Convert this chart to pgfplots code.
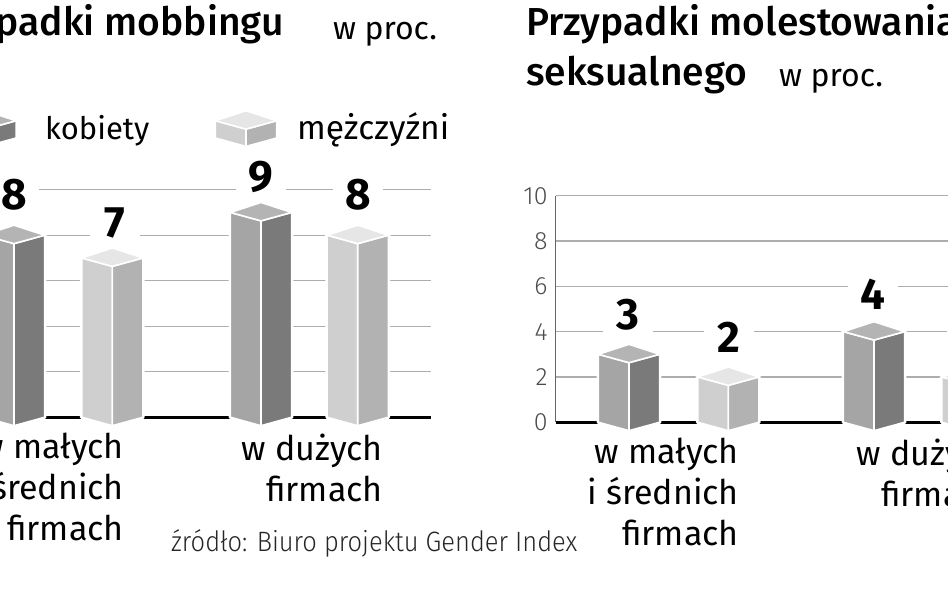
\documentclass[border=0pt]{standalone}
\usepackage{fontspec}
\setmainfont{Fira Sans}
\newfontfamily\lightf{Fira Sans Light}
\newfontfamily\medf{Fira Sans Medium}
\usepackage{pgfplots}
\pgfplotsset{compat=1.18}

\definecolor{wl}{HTML}{A5A5A5}
\definecolor{wr}{HTML}{7A7A7A}
\definecolor{wt}{HTML}{B4B4B4}
\definecolor{ml}{HTML}{CFCFCF}
\definecolor{mr}{HTML}{B2B2B2}
\definecolor{mt}{HTML}{E6E6E6}

% one bar: centre x, base value, top value, colours of left, right, top face
\newcommand\cube[6]{%
  \pgfmathsetmacro\xl{#1-30.6}%
  \pgfmathsetmacro\xr{#1+30.6}%
  \pgfmathsetmacro\bf{#2-0.37}%
  \pgfmathsetmacro\tf{#3-0.37}%
  \pgfmathsetmacro\tb{#3+0.44}%
  \edef\tmp{%
    \noexpand\addplot[draw=white,line width=3.5pt,fill=white,line join=round] coordinates {(\xl,#2) (\xl,#3) (#1,\tb) (\xr,#3) (\xr,#2) (#1,\bf)} --cycle;
    \noexpand\addplot[draw=white,line width=1.6pt,fill=#4] coordinates {(\xl,#2) (\xl,#3) (#1,\tf) (#1,\bf)} --cycle;
    \noexpand\addplot[draw=white,line width=1.6pt,fill=#5] coordinates {(#1,\bf) (#1,\tf) (\xr,#3) (\xr,#2)} --cycle;
    \noexpand\addplot[draw=white,line width=1.6pt,fill=#6] coordinates {(\xl,#3) (#1,\tb) (\xr,#3) (#1,\tf)} --cycle;
  }\tmp}

\pgfplotsset{
  bars3d/.style={
    x=1pt, clip=false, no markers,
    ymin=0, ymax=10, ytick={0,2,...,10},
    axis lines=left, axis line style={-},
    x axis line style={black,line width=2.6pt},
    y axis line style={color=black!60,line width=1.3pt},
    major tick length=0pt,
    ymajorgrids, grid style={color=black!32,line width=1.3pt},
    /pgf/number format/assume math mode=true,
    yticklabel style={font=\lightf\fontsize{25}{25}\selectfont,text=black!70,inner sep=0pt,xshift=-8pt},
    xticklabel style={font=\fontsize{34}{41}\selectfont,align=right,anchor=north east,inner sep=0pt,yshift=-16pt},
  },
  valuelabels/.style={
    draw=none, point meta=explicit symbolic, nodes near coords,
    every node near coord/.style={anchor=center,fill=white,inner sep=0pt,
      minimum width=50pt,minimum height=36pt,
      font=\bfseries\fontsize{44}{44}\selectfont},
  },
}

\begin{document}
\begin{tikzpicture}
\path[use as bounding box] (0,0) rectangle (948pt,593pt);
\clip (0,0) rectangle (948pt,593pt);

% left chart
\begin{axis}[bars3d, y=22.76pt, at={(-59pt,175.7pt)}, anchor=south west,
    xmin=-59, xmax=431,
    xtick={124,383},
    xticklabels={{w małych\\i średnich\\firmach},{w dużych\\firmach}}]
  \addplot[valuelabels] coordinates {(14,9.77)[8] (115,8.54)[7] (261,10.57)[9] (358,9.77)[8]};
  \cube{14}{0}{8}{wl}{wr}{wt}
  \cube{112.3}{0}{7}{ml}{mr}{mt}
  \cube{261}{0}{9}{wl}{wr}{wt}
  \cube{357.7}{0}{8}{ml}{mr}{mt}
  % legend swatches
  \cube{-14.5}{12.27}{13.03}{wl}{wr}{wt}
  \cube{246}{12.27}{13.03}{ml}{mr}{mt}
\end{axis}

% right chart
\begin{axis}[bars3d, y=22.66pt, at={(555.7pt,170.7pt)}, anchor=south west,
    xmin=555.7, xmax=1045,
    xtick={739,998},
    xticklabels={{w małych\\i średnich\\firmach},{w dużych\\firmach}}]
  \addplot[valuelabels] coordinates {(628,4.73)[3] (729,3.73)[2] (872.5,5.66)[4] (972,3.73)[2]};
  \cube{629}{0}{3}{wl}{wr}{wt}
  \cube{728.3}{0}{2}{ml}{mr}{mt}
  \cube{874}{0}{4}{wl}{wr}{wt}
  \cube{972.5}{0}{2}{ml}{mr}{mt}
\end{axis}

% titles and captions
\node[anchor=base east,inner sep=0pt,font=\medf\fontsize{39}{39}\selectfont] at (284pt,557pt) {Przypadki mobbingu};
\node[anchor=base west,inner sep=0pt,font=\fontsize{32}{32}\selectfont] at (333pt,553pt) {w proc.};
\node[anchor=base west,inner sep=0pt,font=\medf\fontsize{39}{39}\selectfont] at (526pt,557pt) {Przypadki molestowania};
\node[anchor=base west,inner sep=0pt,font=\medf\fontsize{39}{39}\selectfont] at (526pt,507pt) {seksualnego};
\node[anchor=base west,inner sep=0pt,font=\fontsize{32}{32}\selectfont] at (779pt,506pt) {w proc.};
\node[anchor=base west,inner sep=0pt,font=\fontsize{31}{31}\selectfont] at (45pt,453pt) {kobiety};
\node[anchor=base west,inner sep=0pt,font=\fontsize{33.5}{33.5}\selectfont] at (297pt,453pt) {mężczyźni};
\node[anchor=base west,inner sep=0pt,xscale=0.91,font=\lightf\fontsize{28}{28}\selectfont,text=black!85] at (171pt,41pt) {źródło: Biuro projektu Gender Index};
\end{tikzpicture}
\end{document}
